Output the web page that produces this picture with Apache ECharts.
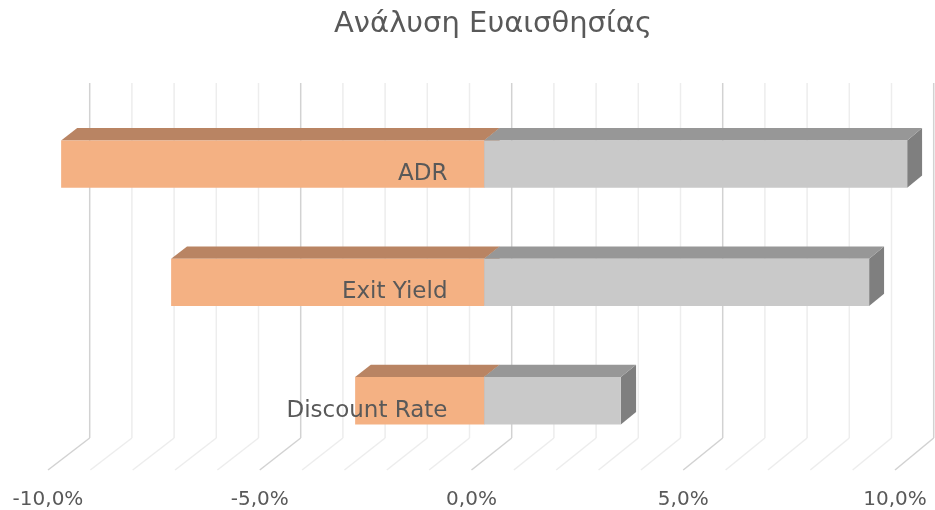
<!DOCTYPE html>
<html><head><meta charset="utf-8">
<script src="https://cdn.jsdelivr.net/npm/echarts@6/dist/echarts.min.js"></script>
<style>html,body{margin:0;padding:0;background:#fff}#c{width:935px;height:510px}</style>
</head><body><div id="c"></div>
<script>
const titleText = 'Ανάλυση Ευαισθησίας';
const categories = ['ADR', 'Exit Yield', 'Discount Rate'];
const lowValues = [-10.0, -7.4, -3.05];
const highValues = [10.0, 9.1, 3.23];
const axisTicks = [-10, -5, 0, 5, 10];
const gridSteps = [-10, -9, -8, -7, -6, -5, -4, -3, -2, -1, 0, 1, 2, 3, 4, 5, 6, 7, 8, 9, 10];

const DEPTH_DX = 40.2, DEPTH_DX_SLOPE = -0.15, DEPTH_DY = -32;
const BAR_T0 = 0.315, BAR_T1 = 0.70;
const FONT = 'DejaVu Sans';
const GRID_LEFT = 48, GRID_RIGHT = 40;
const PLOT_W = 935 - GRID_LEFT - GRID_RIGHT;
// category axis sits on the value-axis zero
const Y_AXIS_OFFSET = -PLOT_W * (0 - (-10)) / (10 - (-10));

function proj(api, v, yFront, t) {
  const x = api.coord([v, 0])[0];
  return [x + t * (DEPTH_DX + DEPTH_DX_SLOPE * v), yFront + t * DEPTH_DY];
}

function barRender(frontC, topC, sideC) {
  return function (params, api) {
    const idx = api.value(0), v = api.value(1);
    const yc = api.coord([0, idx])[1];
    const h = api.size([0, 1])[1] * 0.4;
    const a = Math.min(0, v), b = Math.max(0, v);
    const yt = yc - h / 2, yb = yc + h / 2;
    const f1 = proj(api, a, yt, BAR_T0), f2 = proj(api, b, yt, BAR_T0),
          f3 = proj(api, b, yb, BAR_T0), f4 = proj(api, a, yb, BAR_T0);
    const k1 = proj(api, a, yt, BAR_T1), k2 = proj(api, b, yt, BAR_T1),
          k3 = proj(api, b, yb, BAR_T1);
    return {
      type: 'group',
      children: [
        { type: 'polygon', shape: { points: [f2, k2, k3, f3] }, style: { fill: sideC } },
        { type: 'polygon', shape: { points: [f1, f2, k2, k1] }, style: { fill: topC } },
        { type: 'polygon', shape: { points: [f1, f2, f3, f4] }, style: { fill: frontC } }
      ]
    };
  };
}

function gridRender(params, api) {
  const v = api.value(0);
  const cs = params.coordSys;
  const yBottom = cs.y + cs.height, yTop = cs.y;
  const f = proj(api, v, yBottom, 0), b = proj(api, v, yBottom, 1), bt = proj(api, v, yTop, 1);
  const major = axisTicks.indexOf(v) >= 0;
  const st = { stroke: major ? '#d2d2d2' : '#ededed', lineWidth: 1.5, fill: null };
  return {
    type: 'group',
    children: [
      { type: 'line', shape: { x1: f[0], y1: f[1], x2: b[0], y2: b[1] }, style: st },
      { type: 'line', shape: { x1: b[0], y1: b[1], x2: bt[0], y2: bt[1] }, style: st }
    ]
  };
}

const chart = echarts.init(document.getElementById('c'), null, { renderer: 'canvas' });
chart.setOption({
  animation: false,
  backgroundColor: '#ffffff',
  title: {
    text: titleText,
    left: 334,
    top: 10,
    padding: 0,
    textStyle: { fontFamily: FONT, fontSize: 29, fontWeight: 'normal', color: '#595959' }
  },
  grid: { left: GRID_LEFT, right: GRID_RIGHT, top: 115, bottom: 40, containLabel: false, outerBoundsMode: 'none' },
  xAxis: {
    type: 'value', min: -10, max: 10, interval: 5,
    axisLine: { show: false }, axisTick: { show: false }, splitLine: { show: false },
    axisLabel: {
      margin: 20, fontFamily: FONT, fontSize: 20, color: '#595959',
      formatter: function (v) { return v.toFixed(1).replace('.', ',') + '%'; }
    }
  },
  yAxis: {
    type: 'category', data: categories, inverse: true, z: 10,
    offset: Y_AXIS_OFFSET,
    axisLine: { show: false, onZero: false }, axisTick: { show: false }, splitLine: { show: false },
    axisLabel: { margin: 24, fontFamily: FONT, fontSize: 23, color: '#595959' }
  },
  series: [
    {
      type: 'custom', name: 'grid', z: 1, silent: true, clip: false,
      data: gridSteps.map(function (v) { return [v, 0]; }),
      encode: { x: 0, y: 1 },
      renderItem: gridRender
    },
    {
      type: 'custom', name: 'Low', z: 3, clip: false,
      data: lowValues.map(function (v, i) { return [i, v]; }),
      encode: { x: 1, y: 0 },
      renderItem: barRender('#F4B183', '#B98463', '#B98463')
    },
    {
      type: 'custom', name: 'High', z: 3, clip: false,
      data: highValues.map(function (v, i) { return [i, v]; }),
      encode: { x: 1, y: 0 },
      renderItem: barRender('#C9C9C9', '#979797', '#7F7F7F')
    }
  ]
});
</script></body></html>
